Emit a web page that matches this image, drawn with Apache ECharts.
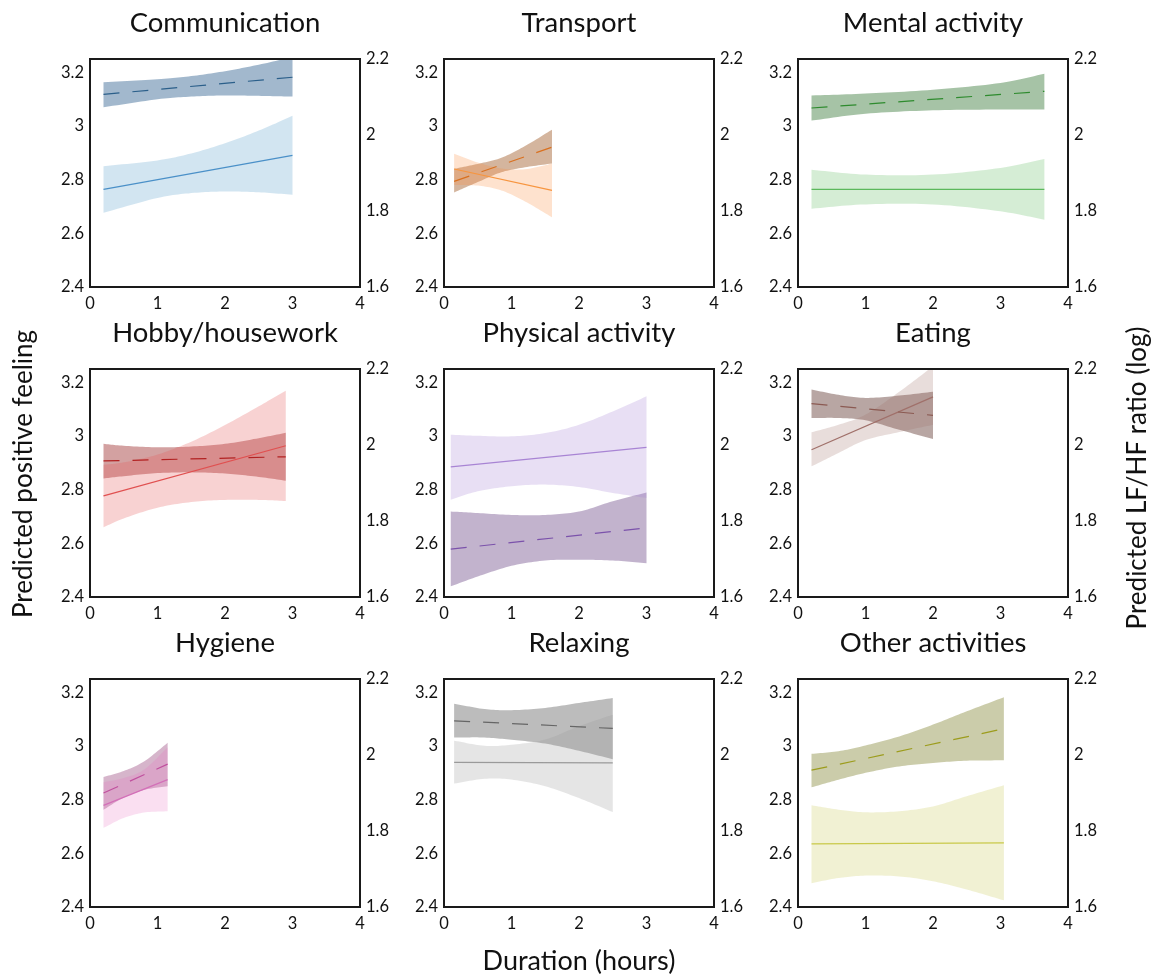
<!DOCTYPE html>
<html><head><meta charset="utf-8">
<script src="https://cdn.jsdelivr.net/npm/echarts@6/dist/echarts.min.js"></script>
<style>html,body{margin:0;padding:0;background:#fff}#chart{width:1162px;height:978px}</style>
</head><body><div id="chart"></div>
<script>
// ---------- axis ticks ----------
const durTicks = [0, 1, 2, 3, 4];
const feelTicks = [2.4, 2.6, 2.8, 3.0, 3.2];
const lfTicks = [1.6, 1.8, 2.0, 2.2];
const feelTop = 3.25;

const titles = ['Communication', 'Transport', 'Mental activity', 'Hobby/housework', 'Physical activity', 'Eating', 'Hygiene', 'Relaxing', 'Other activities'];

// ---------- Communication ----------
const comm_x = [0.2, 1, 1.5, 2, 2.5, 3];
const comm_feel = [2.764, 2.891];
const comm_feelLo = [2.677, 2.732, 2.750, 2.756, 2.753, 2.744];
const comm_feelHi = [2.850, 2.872, 2.898, 2.936, 2.983, 3.038];
const comm_lf = [2.107, 2.152];
const comm_lfLo = [2.073, 2.094, 2.101, 2.104, 2.103, 2.101];
const comm_lfHi = [2.139, 2.147, 2.155, 2.168, 2.185, 2.205];
// ---------- Transport ----------
const tran_x = [0.15, 0.5, 0.85, 1.2, 1.6];
const tran_feel = [2.84, 2.76];
const tran_feelLo = [2.780, 2.778, 2.760, 2.719, 2.660];
const tran_feelHi = [2.897, 2.864, 2.842, 2.839, 2.860];
const tran_lf = [1.878, 1.968];
const tran_lfLo = [1.849, 1.876, 1.902, 1.915, 1.925];
const tran_lfHi = [1.911, 1.924, 1.940, 1.971, 2.014];
// ---------- Mental activity ----------
const ment_x = [0.2, 1, 2, 3, 3.65];
const ment_feel = [2.764, 2.764];
const ment_feelLo = [2.692, 2.708, 2.708, 2.682, 2.651];
const ment_feelHi = [2.837, 2.819, 2.819, 2.844, 2.877];
const ment_lf = [2.071, 2.115];
const ment_lfLo = [2.038, 2.056, 2.065, 2.067, 2.067];
const ment_lfHi = [2.104, 2.109, 2.119, 2.137, 2.161];
// ---------- Hobby/housework ----------
const hobb_x = [0.2, 0.5, 1, 1.5, 2, 2.5, 2.9];
const hobb_feel = [2.777, 2.964];
const hobb_feelLo = [2.660, 2.693, 2.733, 2.754, 2.762, 2.762, 2.758];
const hobb_feelHi = [2.893, 2.902, 2.931, 2.979, 3.041, 3.111, 3.169];
const hobb_lf = [1.958, 1.969];
const hobb_lfLo = [1.912, 1.918, 1.926, 1.928, 1.925, 1.916, 1.906];
const hobb_lfHi = [2.003, 1.998, 1.994, 1.996, 2.003, 2.018, 2.032];
// ---------- Physical activity ----------
const phys_x = [0.1, 0.5, 1, 1.5, 2, 2.5, 3];
const phys_feel = [2.885, 2.958];
const phys_feelLo = [2.763, 2.794, 2.813, 2.819, 2.810, 2.788, 2.769];
const phys_feelHi = [3.005, 3.001, 2.999, 3.011, 3.042, 3.092, 3.148];
const phys_lf = [1.726, 1.782];
const phys_lfLo = [1.628, 1.654, 1.682, 1.696, 1.698, 1.696, 1.689];
const phys_lfHi = [1.825, 1.821, 1.816, 1.816, 1.825, 1.852, 1.875];
// ---------- Eating ----------
const eati_x = [0.2, 0.6, 1, 1.5, 2];
const eati_feel = [2.949, 3.146];
const eati_feelLo = [2.887, 2.937, 2.985, 3.015, 3.042];
const eati_feelHi = [3.014, 3.042, 3.080, 3.165, 3.260];
const eati_lf = [2.109, 2.078];
const eati_lfLo = [2.071, 2.071, 2.065, 2.040, 2.016];
const eati_lfHi = [2.146, 2.132, 2.124, 2.130, 2.140];
// ---------- Hygiene ----------
const hygi_x = [0.2, 0.5, 0.8, 1.15];
const hygi_feel = [2.779, 2.875];
const hygi_feelLo = [2.695, 2.732, 2.752, 2.757];
const hygi_feelHi = [2.865, 2.881, 2.912, 2.995];
const hygi_lf = [1.900, 1.976];
const hygi_lfLo = [1.856, 1.888, 1.908, 1.918];
const hygi_lfHi = [1.942, 1.958, 1.983, 2.032];
// ---------- Relaxing ----------
const rela_x = [0.15, 0.6, 1, 1.5, 2, 2.5];
const rela_feel = [2.939, 2.937];
const rela_feelLo = [2.860, 2.878, 2.875, 2.850, 2.806, 2.754];
const rela_feelHi = [3.020, 3.001, 3.005, 3.024, 3.074, 3.117];
const rela_lf = [2.090, 2.070];
const rela_lfLo = [2.046, 2.046, 2.040, 2.030, 2.011, 1.989];
const rela_lfHi = [2.135, 2.121, 2.118, 2.124, 2.137, 2.150];
// ---------- Other activities ----------
const othe_x = [0.2, 0.6, 1, 1.5, 2, 2.5, 3.05];
const othe_feel = [2.635, 2.639];
const othe_feelLo = [2.489, 2.508, 2.517, 2.514, 2.496, 2.465, 2.425];
const othe_feelHi = [2.779, 2.763, 2.753, 2.757, 2.775, 2.813, 2.854];
const othe_lf = [1.960, 2.069];
const othe_lfLo = [1.915, 1.935, 1.953, 1.970, 1.979, 1.985, 1.986];
const othe_lfHi = [2.003, 2.010, 2.025, 2.049, 2.080, 2.115, 2.152];

// ---------- styling ----------
const lineLight = ['#4a90c8', '#f7953f', '#5cb85c', '#e05050', '#a884d4', '#a0706a', '#d36fb8', '#9a9a9a', '#c9c94a'];
const fillLight = ['rgba(66,146,198,0.24)', 'rgba(253,141,60,0.25)', 'rgba(92,184,92,0.26)', 'rgba(228,90,90,0.27)', 'rgba(168,132,212,0.26)', 'rgba(160,112,106,0.24)', 'rgba(230,110,190,0.22)', 'rgba(153,153,153,0.25)', 'rgba(200,200,80,0.25)'];
const lineDark = ['#2b5f8a', '#d9701f', '#2e8b2e', '#b22222', '#7b52ab', '#8b5a52', '#c0509e', '#666666', '#9c9c1c'];
const fillDark = ['rgba(40,90,140,0.43)', 'rgba(160,90,40,0.45)', 'rgba(40,110,40,0.41)', 'rgba(150,30,30,0.42)', 'rgba(90,50,120,0.37)', 'rgba(100,60,55,0.46)', 'rgba(140,50,110,0.36)', 'rgba(80,80,80,0.38)', 'rgba(110,115,20,0.36)'];

const panels = [
  [comm_x, comm_feel, comm_feelLo, comm_feelHi, comm_lf, comm_lfLo, comm_lfHi],
  [tran_x, tran_feel, tran_feelLo, tran_feelHi, tran_lf, tran_lfLo, tran_lfHi],
  [ment_x, ment_feel, ment_feelLo, ment_feelHi, ment_lf, ment_lfLo, ment_lfHi],
  [hobb_x, hobb_feel, hobb_feelLo, hobb_feelHi, hobb_lf, hobb_lfLo, hobb_lfHi],
  [phys_x, phys_feel, phys_feelLo, phys_feelHi, phys_lf, phys_lfLo, phys_lfHi],
  [eati_x, eati_feel, eati_feelLo, eati_feelHi, eati_lf, eati_lfLo, eati_lfHi],
  [hygi_x, hygi_feel, hygi_feelLo, hygi_feelHi, hygi_lf, hygi_lfLo, hygi_lfHi],
  [rela_x, rela_feel, rela_feelLo, rela_feelHi, rela_lf, rela_lfLo, rela_lfHi],
  [othe_x, othe_feel, othe_feelLo, othe_feelHi, othe_lf, othe_lfLo, othe_lfHi]
];

const FONT = 'Lato, "Open Sans", sans-serif';
const colLeft = [90, 444, 798];
const rowTop = [59, 369, 679];
const GW = 270, GH = 228;
const r3 = v => Math.round(v * 1000) / 1000;

// smooth a pixel-space polyline (cubic Hermite / Catmull-Rom) for drawing only
function smoothPts(p) {
  if (p.length < 3) return p.slice();
  const out = [];
  const n = p.length;
  const tan = p.map((pt, k) => {
    const a = p[Math.max(0, k - 1)], b = p[Math.min(n - 1, k + 1)];
    const f = (k === 0 || k === n - 1) ? 1 : 0.5;
    return [(b[0] - a[0]) * f, (b[1] - a[1]) * f];
  });
  for (let k = 0; k < n - 1; k++) {
    const P0 = p[k], P1 = p[k + 1], M0 = tan[k], M1 = tan[k + 1];
    const steps = 12;
    for (let s = 0; s < steps; s++) {
      const t = s / steps, t2 = t * t, t3 = t2 * t;
      const h00 = 2 * t3 - 3 * t2 + 1, h10 = t3 - 2 * t2 + t, h01 = -2 * t3 + 3 * t2, h11 = t3 - t2;
      out.push([h00 * P0[0] + h10 * M0[0] + h01 * P1[0] + h11 * M1[0], h00 * P0[1] + h10 * M0[1] + h01 * P1[1] + h11 * M1[1]]);
    }
  }
  out.push(p[n - 1]);
  return out;
}

const grids = [], xAxes = [], yAxes = [], series = [], graphics = [];
const tickLabel = { fontFamily: FONT, fontSize: 16.5, color: '#111' };

panels.forEach((p, i) => {
  const [xs, feel, feelLo, feelHi, lf, lfLo, lfHi] = p;
  const col = i % 3, row = Math.floor(i / 3);
  grids.push({ left: colLeft[col], top: rowTop[row], width: GW, height: GH, show: true, borderColor: '#1a1a1a', borderWidth: 2, backgroundColor: 'rgba(0,0,0,0)', z: 10 });
  xAxes.push({ type: 'value', gridIndex: i, min: durTicks[0], max: durTicks[durTicks.length - 1], interval: r3(durTicks[1] - durTicks[0]),
    axisLine: { show: false }, axisTick: { show: false }, splitLine: { show: false },
    axisLabel: Object.assign({ margin: 8 }, tickLabel) });
  yAxes.push({ type: 'value', gridIndex: i, position: 'left', min: feelTicks[0], max: feelTop, interval: r3(feelTicks[1] - feelTicks[0]),
    axisLine: { show: false }, axisTick: { show: false }, splitLine: { show: false },
    axisLabel: Object.assign({ margin: 6, showMaxLabel: false }, tickLabel) });
  yAxes.push({ type: 'value', gridIndex: i, position: 'right', min: lfTicks[0], max: lfTicks[lfTicks.length - 1], interval: r3(lfTicks[1] - lfTicks[0]),
    axisLine: { show: false }, axisTick: { show: false }, splitLine: { show: false },
    axisLabel: Object.assign({ margin: 6 }, tickLabel) });

  const addBand = (lo, hi, yIdx, fill) => {
    series.push({ type: 'custom', xAxisIndex: i, yAxisIndex: yIdx, clip: true, silent: true, z: 1,
      data: [[xs[0], lo[0]]],
      renderItem: (params, api) => {
        const top = xs.map((x, k) => api.coord([x, hi[k]]));
        const bot = xs.map((x, k) => api.coord([x, lo[k]]));
        const pts = smoothPts(top).concat(smoothPts(bot).reverse());
        return { type: 'polygon', shape: { points: pts }, style: { fill: fill } };
      } });
  };
  addBand(lfLo, lfHi, 2 * i + 1, fillDark[i]);
  addBand(feelLo, feelHi, 2 * i, fillLight[i]);
  const x0 = xs[0], x1 = xs[xs.length - 1];
  series.push({ type: 'line', xAxisIndex: i, yAxisIndex: 2 * i, data: [[x0, feel[0]], [x1, feel[1]]], showSymbol: false, symbol: 'none',
    lineStyle: { color: lineLight[i], width: 1.2 }, silent: true, z: 3 });
  series.push({ type: 'line', xAxisIndex: i, yAxisIndex: 2 * i + 1, data: [[x0, lf[0]], [x1, lf[1]]], showSymbol: false, symbol: 'none',
    lineStyle: { color: lineDark[i], width: 1.2, type: [16, 13] }, silent: true, z: 3 });

  graphics.push({ type: 'text', x: colLeft[col] + GW / 2, y: rowTop[row] - 36,
    style: { text: titles[i], font: '27.5px ' + FONT, fill: '#111', align: 'center', verticalAlign: 'middle', textAlign: 'center', textVerticalAlign: 'middle' } });
});

graphics.push({ type: 'text', x: 24, y: 474, rotation: Math.PI / 2,
  style: { text: 'Predicted positive feeling', font: '26px ' + FONT, fill: '#111', align: 'center', verticalAlign: 'middle', textAlign: 'center', textVerticalAlign: 'middle' } });
graphics.push({ type: 'text', x: 1138, y: 478, rotation: Math.PI / 2,
  style: { text: 'Predicted LF/HF ratio (log)', font: '26px ' + FONT, fill: '#111', align: 'center', verticalAlign: 'middle', textAlign: 'center', textVerticalAlign: 'middle' } });
graphics.push({ type: 'text', x: 579, y: 961,
  style: { text: 'Duration (hours)', font: '27px ' + FONT, fill: '#111', align: 'center', verticalAlign: 'middle', textAlign: 'center', textVerticalAlign: 'middle' } });

const chart = echarts.init(document.getElementById('chart'), null, { renderer: 'canvas' });
chart.setOption({
  animation: false,
  backgroundColor: '#fff',
  grid: grids, xAxis: xAxes, yAxis: yAxes, series: series,
  graphic: { elements: graphics }
});
</script></body></html>
